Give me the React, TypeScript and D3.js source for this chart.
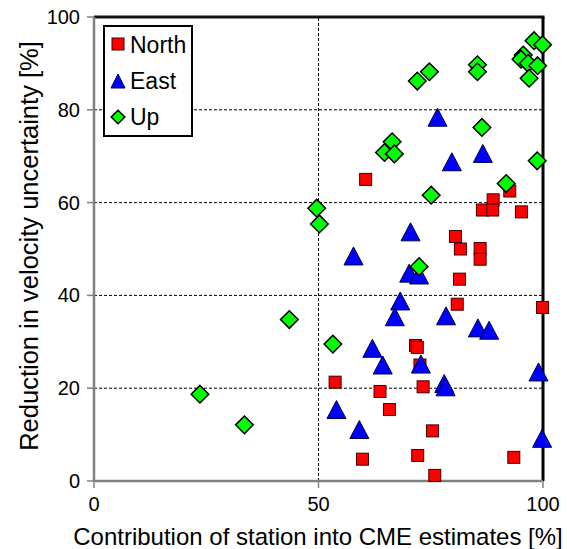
import React from "react";
import * as d3 from "d3";

const northX = [60.5, 92.6, 88.9, 86.5, 88.8, 95.2, 80.5, 81.6, 86.0, 86.0, 81.4, 80.9, 99.9, 71.6, 72.0, 72.6, 53.7, 63.7, 73.3, 65.8, 75.4, 59.8, 72.1, 93.5, 75.9];
const northY = [65.0, 62.5, 60.6, 58.4, 58.4, 58.0, 52.7, 50.0, 50.1, 47.8, 43.5, 38.1, 37.4, 29.2, 28.8, 25.0, 21.3, 19.3, 20.3, 15.4, 10.8, 4.7, 5.5, 5.1, 1.2];

const eastX = [76.5, 79.7, 86.6, 70.5, 57.8, 70.2, 72.4, 68.2, 67.0, 78.4, 85.5, 88.0, 62.0, 64.3, 72.8, 78.0, 78.3, 99.0, 54.0, 59.1, 99.8];
const eastY = [78.4, 68.8, 70.6, 53.7, 48.5, 44.8, 44.4, 38.8, 35.4, 35.6, 33.0, 32.5, 28.6, 25.0, 25.2, 21.0, 20.3, 23.5, 15.4, 11.1, 9.2];

const upX = [98.0, 99.9, 95.6, 95.1, 96.7, 98.8, 96.9, 85.4, 85.4, 74.7, 72.0, 86.4, 66.4, 64.7, 66.9, 98.7, 91.8, 75.1, 49.6, 50.2, 72.4, 43.5, 53.2, 23.6, 33.5];
const upY = [94.9, 94.0, 91.8, 90.9, 90.0, 89.5, 86.8, 89.7, 88.2, 88.2, 86.2, 76.2, 73.1, 70.8, 70.5, 69.0, 64.1, 61.6, 58.8, 55.4, 46.2, 34.8, 29.5, 18.7, 12.1];

const xTicks = [0, 50, 100];
const yTicks = [0, 20, 40, 60, 80, 100];
const legendLabels = ["North", "East", "Up"];

const W = 567;
const H = 549;
const FONT = "'Liberation Sans', Arial, sans-serif";

const tri = (w: number, h: number) => `M0,${-h / 2}L${w / 2},${h / 2}L${-w / 2},${h / 2}Z`;
const dia = (r: number) => `M0,${-r}L${r},0L0,${r}L${-r},0Z`;

export default function App() {
  const x = d3.scaleLinear().domain([0, 100]).range([94, 543]);
  const y = d3.scaleLinear().domain([0, 100]).range([481, 17]);
  const [x0, x1] = x.range();
  const [y0, y1] = y.range();

  const sq = 12;

  return (
    <svg width={W} height={H} style={{ position: "absolute", left: 0, top: 0, background: "#fff" }}>
      <rect x={0} y={0} width={W} height={H} fill="#fff" />
      {/* gridlines */}
      {yTicks.filter((t) => t > 0 && t < 100).map((t) => (
        <line key={"gy" + t} x1={x0} x2={x1} y1={y(t)} y2={y(t)} stroke="#000" strokeWidth={1} strokeDasharray="3,2" />
      ))}
      {xTicks.filter((t) => t > 0 && t < 100).map((t) => (
        <line key={"gx" + t} x1={x(t)} x2={x(t)} y1={y0} y2={y1} stroke="#000" strokeWidth={1} strokeDasharray="3,2" />
      ))}
      {/* frame: top & right */}
      <line x1={x0} x2={x1 + 1.5} y1={y1} y2={y1} stroke="#111" strokeWidth={3} />
      <line x1={x1} x2={x1} y1={y1} y2={y0} stroke="#000" strokeWidth={3} />
      {/* axes */}
      <line x1={x0} x2={x0} y1={y1} y2={y0} stroke="#808080" strokeWidth={2.5} />
      <line x1={x0} x2={x1} y1={y0} y2={y0} stroke="#808080" strokeWidth={2.5} />
      {yTicks.map((t) => (
        <g key={"yt" + t}>
          <line x1={x0 - 7} x2={x0} y1={y(t)} y2={y(t)} stroke="#808080" strokeWidth={1.5} />
          <text x={80} y={y(t)} dy="0.35em" textAnchor="end" fontFamily={FONT} fontSize={20} fill="#000">{t}</text>
        </g>
      ))}
      {xTicks.map((t) => (
        <g key={"xt" + t}>
          <line x1={x(t)} x2={x(t)} y1={y0} y2={y0 + 7} stroke="#808080" strokeWidth={1.5} />
          <text x={x(t)} y={511} textAnchor="middle" fontFamily={FONT} fontSize={20} fill="#000">{t}</text>
        </g>
      ))}
      <text x={318} y={545} textAnchor="middle" fontFamily={FONT} fontSize={24} fill="#000">
        Contribution of station into CME estimates [%]
      </text>
      <text transform={`translate(38,246) rotate(-90)`} textAnchor="middle" fontFamily={FONT} fontSize={25.5} fill="#000">
        Reduction in velocity uncertainty [%]
      </text>

      {/* North */}
      {northX.map((v, i) => (
        <rect key={"n" + i} x={x(v) - sq / 2} y={y(northY[i]) - sq / 2} width={sq} height={sq} fill="#ff0000" stroke="#400000" strokeWidth={1} />
      ))}
      {/* East */}
      {eastX.map((v, i) => (
        <path key={"e" + i} d={tri(19, 18)} transform={`translate(${x(v)},${y(eastY[i])})`} fill="#0000ff" stroke="#000040" strokeWidth={1} />
      ))}
      {/* Up */}
      {upX.map((v, i) => (
        <path key={"u" + i} d={dia(8.8)} transform={`translate(${x(v)},${y(upY[i])})`} fill="#00ff00" stroke="#000" strokeWidth={1.5} />
      ))}

      {/* legend */}
      <rect x={104} y={26} width={88} height={110} fill="#fff" stroke="#000" strokeWidth={2} />
      <rect x={112} y={38} width={12} height={12} fill="#ff0000" stroke="#400000" strokeWidth={1} />
      <path d={tri(14, 14)} transform="translate(118,81)" fill="#0000ff" stroke="#000040" strokeWidth={1} />
      <path d={dia(6.8)} transform="translate(118,117)" fill="#00ff00" stroke="#000" strokeWidth={1.5} />
      {legendLabels.map((l, i) => (
        <text key={l} x={130} y={53 + i * 36} fontFamily={FONT} fontSize={23} fill="#000">{l}</text>
      ))}
    </svg>
  );
}
